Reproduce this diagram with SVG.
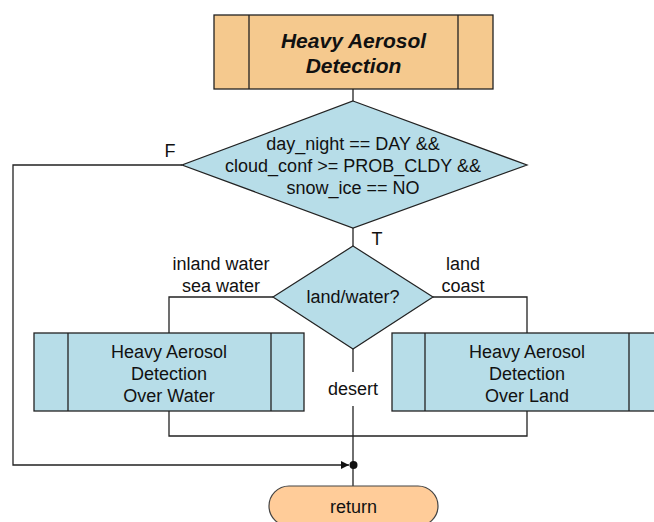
<svg xmlns="http://www.w3.org/2000/svg" width="654" height="522" viewBox="0 0 654 522">
  <style>
    .t { font-family: "Liberation Sans", Arial, sans-serif; font-size: 18px; fill: #111; text-anchor: middle; }
    .title { font-family: "Liberation Sans", Arial, sans-serif; font-size: 21px; font-weight: bold; font-style: italic; fill: #111; text-anchor: middle; }
    .proc { fill: #B7DDE8; stroke: #222; stroke-width: 1.3; }
    .bar { stroke: #222; stroke-width: 1.3; fill: none; }
    .dec { fill: #B7DDE8; stroke: #222; stroke-width: 1.2; }
    .wire { fill: none; stroke: #222; stroke-width: 1.3; }
  </style>
  <defs>
    <marker id="arrow" viewBox="0 0 10 10" refX="10" refY="5" markerWidth="8" markerHeight="8" markerUnits="userSpaceOnUse" orient="auto">
      <path d="M0,0 L10,5 L0,10 Z" fill="#111"/>
    </marker>
  </defs>
  <rect width="654" height="522" fill="#fff"/>

  <g id="connectors">
    <path class="wire" d="M353,89 V101"/>
    <path class="wire" d="M353,228 V246"/>
    <path class="wire" d="M273,297 H169 V333"/>
    <path class="wire" d="M433,297 H527 V333"/>
    <path class="wire" d="M353,349 V372"/>
    <path class="wire" d="M353,406 V465"/>
    <path class="wire" d="M169,411 V436 H527 V411"/>
    <path class="wire" d="M182,165 H13 V465 H349" marker-end="url(#arrow)"/>
    <path class="wire" d="M353,465 V486"/>
    <circle cx="353.5" cy="465" r="4" fill="#111"/>
    <text class="t" x="170" y="157">F</text>
    <text class="t" x="377" y="245">T</text>
    <text class="t" x="221" y="270">inland water</text>
    <text class="t" x="221" y="292">sea water</text>
    <text class="t" x="463" y="270">land</text>
    <text class="t" x="463" y="292">coast</text>
    <text class="t" x="353" y="395">desert</text>
  </g>

  <g id="start">
    <rect x="214" y="15" width="279" height="74" fill="#F5C98E" stroke="#222" stroke-width="1.3"/>
    <path class="bar" d="M249,15 V89 M458,15 V89"/>
    <text class="title" x="353.5" y="48">Heavy Aerosol</text>
    <text class="title" x="353.5" y="73">Detection</text>
  </g>

  <g id="check-conditions">
    <polygon class="dec" points="353,101 527,165 353,228 182,165"/>
    <text class="t" x="353" y="150">day_night == DAY &amp;&amp;</text>
    <text class="t" x="353" y="172">cloud_conf &gt;= PROB_CLDY &amp;&amp;</text>
    <text class="t" x="353" y="194">snow_ice == NO</text>
  </g>

  <g id="land-water">
    <polygon class="dec" points="353,246 433,297 353,349 273,297"/>
    <text class="t" x="353" y="303">land/water?</text>
  </g>

  <g id="over-water">
    <rect class="proc" x="34" y="333" width="270" height="78"/>
    <path class="bar" d="M68,333 V411 M271,333 V411"/>
    <text class="t" x="169" y="358">Heavy Aerosol</text>
    <text class="t" x="169" y="380">Detection</text>
    <text class="t" x="169" y="402">Over Water</text>
  </g>

  <g id="over-land">
    <rect class="proc" x="392" y="333" width="270" height="78"/>
    <path class="bar" d="M425,333 V411 M629,333 V411"/>
    <text class="t" x="527" y="358">Heavy Aerosol</text>
    <text class="t" x="527" y="380">Detection</text>
    <text class="t" x="527" y="402">Over Land</text>
  </g>

  <g id="return">
    <rect x="269" y="486" width="169" height="40" rx="20" ry="20" fill="#FFCC99" stroke="#444" stroke-width="1.2"/>
    <text class="t" x="353.5" y="513">return</text>
  </g>
</svg>
